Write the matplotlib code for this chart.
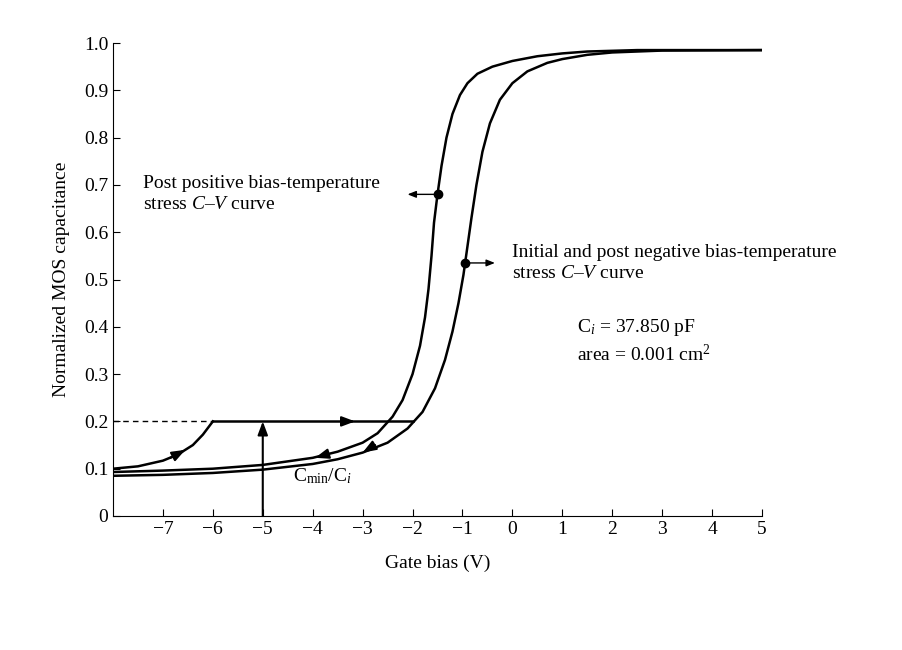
import matplotlib
matplotlib.use("Agg")
import matplotlib.pyplot as plt
import numpy as np

# Data
left_v = [-8, -7, -6, -5, -4, -3.5, -3, -2.7, -2.4, -2.2, -2.0, -1.85, -1.75, -1.68, -1.62, -1.57, -1.5, -1.42, -1.32, -1.2, -1.05, -0.9, -0.7, -0.4, 0, 0.5, 1, 1.5, 2.5, 5]
left_c = [0.093, 0.096, 0.1, 0.108, 0.123, 0.136, 0.155, 0.175, 0.21, 0.245, 0.3, 0.36, 0.42, 0.48, 0.55, 0.62, 0.68, 0.74, 0.8, 0.85, 0.89, 0.915, 0.935, 0.95, 0.962, 0.972, 0.978, 0.982, 0.985, 0.985]
right_v = [-8, -7, -6, -5, -4, -3.5, -3, -2.5, -2.1, -1.8, -1.55, -1.35, -1.2, -1.08, -0.98, -0.9, -0.82, -0.72, -0.6, -0.45, -0.25, 0, 0.3, 0.7, 1, 1.5, 2, 3, 5]
right_c = [0.085, 0.087, 0.091, 0.098, 0.11, 0.12, 0.134, 0.155, 0.185, 0.22, 0.27, 0.33, 0.39, 0.45, 0.51, 0.57, 0.63, 0.7, 0.77, 0.83, 0.88, 0.915, 0.94, 0.958, 0.966, 0.975, 0.98, 0.984, 0.985]
sweep_v = [-8, -7.5, -7, -6.7, -6.4, -6.2, -6]
sweep_c = [0.1, 0.105, 0.117, 0.13, 0.15, 0.172, 0.2]
cmin = 0.2
xticks = [-7, -6, -5, -4, -3, -2, -1, 0, 1, 2, 3, 4, 5]
yticks = [0, 0.1, 0.2, 0.3, 0.4, 0.5, 0.6, 0.7, 0.8, 0.9, 1.0]

plt.rcParams["font.family"] = "Liberation Serif"
plt.rcParams["mathtext.fontset"] = "custom"
plt.rcParams["mathtext.rm"] = "Liberation Serif"
plt.rcParams["mathtext.it"] = "Liberation Serif:italic"
fig = plt.figure(figsize=(9.02, 6.5), dpi=100)
ax = fig.add_axes([113/902, 1-516/650, (762-113)/902, (516-43)/650])

k = dict(color="black", lw=1.8)
ax.plot(left_v, left_c, **k)
ax.plot(right_v, right_c, **k)
ax.plot(sweep_v, sweep_c, **k)
ax.plot([-6, -2], [cmin, cmin], **k)
ax.plot([-8, -6], [cmin, cmin], color="black", lw=1, ls=(0, (4, 3)))

ast = "-|>,head_length=0.8,head_width=0.3"
def arr(x0, y0, x1, y1):
    ax.annotate("", xy=(x1, y1), xytext=(x0, y0),
                arrowprops=dict(arrowstyle=ast, color="black", lw=1.5, shrinkA=0, shrinkB=0))

arr(-6.85, 0.123, -6.55, 0.14)
arr(-3.4, cmin, -3.15, cmin)
arr(-3.7, 0.131, -3.95, 0.123)
arr(-2.75, 0.15, -3.0, 0.134)
ax.annotate("", xy=(-5, cmin), xytext=(-5, 0),
            arrowprops=dict(arrowstyle=ast, color="black", lw=1.5, shrinkA=0, shrinkB=0))

ax.plot([-1.5], [0.68], "o", color="black", ms=6)
ax.plot([-0.95], [0.535], "o", color="black", ms=6)
ast2 = "-|>,head_length=0.5,head_width=0.2"
ax.annotate("", xy=(-2.1, 0.68), xytext=(-1.5, 0.68),
            arrowprops=dict(arrowstyle=ast2, color="black", lw=1, shrinkA=0, shrinkB=0))
ax.annotate("", xy=(-0.35, 0.535), xytext=(-0.95, 0.535),
            arrowprops=dict(arrowstyle=ast2, color="black", lw=1, shrinkA=0, shrinkB=0))

fs = 14
ax.text(-7.4, 0.68, "Post positive bias-temperature\nstress $C$–$V$ curve", fontsize=fs, va="center", linespacing=1.3)
ax.text(0.0, 0.535, "Initial and post negative bias-temperature\nstress $C$–$V$ curve", fontsize=fs, va="center", linespacing=1.3)
ax.text(1.3, 0.37, "C$_i$ = 37.850 pF\narea = 0.001 cm$^2$", fontsize=fs, va="center", linespacing=1.3)
ax.text(-4.4, 0.085, "C$_{\\rm min}$/C$_i$", fontsize=fs, va="center")

ax.set_xlim(-8, 5)
ax.set_ylim(0, 1.0)
ax.set_xticks(xticks)
ax.set_xticklabels(["\u2212%d" % -t if t < 0 else str(t) for t in xticks])
ax.set_yticks(yticks)
ax.set_yticklabels(["0" if t == 0 else "%.1f" % t for t in yticks])
ax.tick_params(direction="in", labelsize=14, length=5)
ax.spines["top"].set_visible(False)
ax.spines["right"].set_visible(False)
ax.set_xlabel("Gate bias (V)", fontsize=14, labelpad=12)
ax.set_ylabel("Normalized MOS capacitance", fontsize=14, labelpad=10)
fig.savefig("out.png", dpi=100)
